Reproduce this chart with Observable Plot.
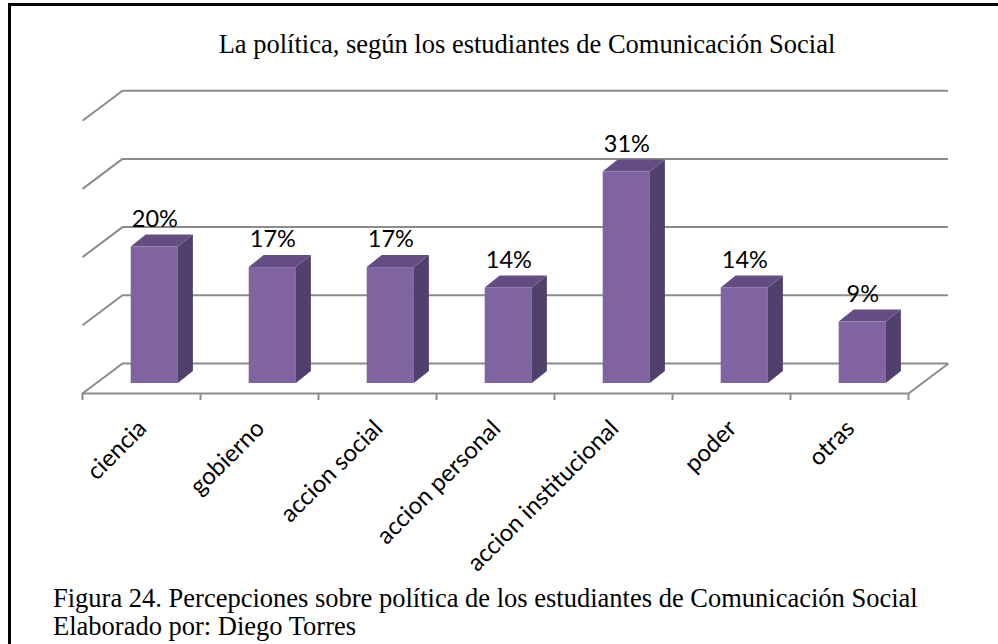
<!DOCTYPE html>
<html><head><meta charset="utf-8">
<script src="https://cdn.jsdelivr.net/npm/d3@7"></script>
<script src="https://cdn.jsdelivr.net/npm/@observablehq/plot@0.6"></script>
<style>
html,body{margin:0;padding:0;background:#fff;overflow:hidden}
#wrap{position:relative;width:998px;height:644px;overflow:hidden;background:#fff}
#frame{position:absolute;left:8px;top:3px;width:1200px;height:1000px;border-left:3px solid #000;border-top:3px solid #000;box-sizing:border-box;pointer-events:none}
#title{height:70px;box-sizing:border-box;padding-top:29px;padding-left:56px;text-align:center;font-family:"Liberation Serif","Times New Roman",serif;font-size:26.5px;line-height:30px;color:#000;white-space:nowrap}
#chart svg{display:block}
#caption{padding-left:53px;font-family:"Liberation Serif","Times New Roman",serif;font-size:26.5px;line-height:28px;color:#000;white-space:nowrap}
</style></head>
<body>
<div id="wrap">
  <div id="title">La política, según los estudiantes de Comunicación Social</div>
  <div id="chart"></div>
  <div id="caption">Figura 24. Percepciones sobre política de los estudiantes de Comunicación Social<br>Elaborado por: Diego Torres</div>
  <div id="frame"></div>
</div>
<script>
const categories = ["ciencia","gobierno","accion social","accion personal","accion institucional","poder","otras"];
const values = [20,17,17,14,31,14,9];
const valueLabels = ["20%","17%","17%","14%","31%","14%","9%"];
const gridTicks = [0,10,20,30,40];

const W = 998, H = 514;
const mL = 82, mR = 90, mT = 50.2, mB = 191;
const pxX = (W - mL - mR) / categories.length;   // px per category
const pxY = (H - mT - mB) / 40;                  // px per percent
const DX = 40 / pxX, DY = 30 / pxY;              // full depth of the floor
const FX = 13.3 / pxX, FY = 10 / pxY;            // bar front plane offset
const BX = 15 / pxX, BY = 12 / pxY;              // bar depth
const n = categories.length;

const bars = categories.map((c, i) => ({
  c, i, v: values[i], label: valueLabels[i],
  x1: i + 0.3 + FX, x2: i + 0.7 + FX, y1: FY, y2: values[i] + FY
}));
const sides = bars.flatMap(b => [
  {z: b.i, x: b.x2, y1: b.y1, y2: b.y2},
  {z: b.i, x: b.x2 + BX, y1: b.y1 + BY, y2: b.y2 + BY}
]);
const tops = bars.flatMap(b => [
  {z: b.i, y: b.y2, x1: b.x1, x2: b.x2},
  {z: b.i, y: b.y2 + BY, x1: b.x1 + BX, x2: b.x2 + BX}
]);

const grid = "#8c8c8c";
const chart = Plot.plot({
  width: W, height: H,
  marginLeft: mL, marginRight: mR, marginTop: mT, marginBottom: mB,
  x: {domain: [0, n], axis: null},
  y: {domain: [0, 40], axis: null},
  style: {background: "transparent", overflow: "visible"},
  marks: [
    Plot.ruleY(gridTicks, {y: d => d + DY, x1: () => DX, x2: () => n + DX, stroke: grid, strokeWidth: 2}),
    Plot.link(gridTicks, {x1: () => 0, y1: d => d, x2: () => DX, y2: d => d + DY, stroke: grid, strokeWidth: 2}),
    Plot.ruleY([0], {y: d => d, x1: () => 0, x2: () => n, stroke: grid, strokeWidth: 2}),
    Plot.link([0], {x1: () => n, y1: d => d, x2: () => n + DX, y2: d => d + DY, stroke: grid, strokeWidth: 2}),
    Plot.ruleX(d3.range(n + 1), {x: d => d, y1: () => 0, y2: () => -7 / pxY, stroke: grid, strokeWidth: 2}),
    Plot.rect(bars, {x1: "x1", x2: "x2", y1: "y1", y2: "y2", fill: "#8064A2"}),
    Plot.areaY(sides, {x: "x", y1: "y1", y2: "y2", z: "z", fill: "#51406B"}),
    Plot.areaX(tops, {y: "y", x1: "x1", x2: "x2", z: "z", fill: "#634D82"}),
    Plot.text(bars, {x: d => d.i + 0.5, y: "v", text: "label", dx: 13.3, dy: -38, fontSize: 23.5, fontFamily: "Lato", fill: "#000"}),
    Plot.text(bars, {x: d => d.i + 0.5, y: () => 0, text: "c", rotate: -45, textAnchor: "end", dx: 1, dy: 31, fontSize: 24, fontFamily: "Lato", fill: "#000"})
  ]
});
document.getElementById("chart").appendChild(chart);
</script>
</body></html>
